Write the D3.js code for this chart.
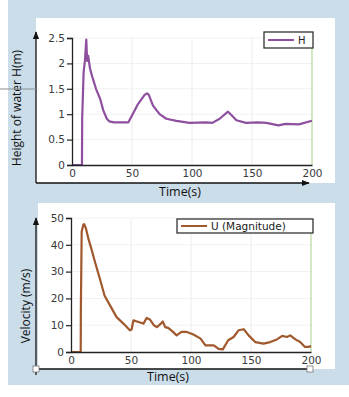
<!DOCTYPE html>
<html>
<head>
<meta charset="utf-8">
<script src="https://cdn.jsdelivr.net/npm/d3@7"></script>
<style>
  html, body { margin: 0; padding: 0; background: #ffffff; }
  svg { display: block; }
</style>
</head>
<body>
<svg id="chart" width="349" height="397"></svg>
<script>
// Water height at the gauge (m) over time (s)
const hTime  = [0, 8.3, 8.5, 9.7, 10.8, 11.9, 12.6, 13.5, 15, 17, 20, 23.5, 26, 29, 31, 35, 40, 47, 51, 55, 60.5, 62.5, 64, 67.5, 73, 78.6, 87, 98, 112, 117, 123, 130, 133, 137, 145, 155, 162, 170, 172, 178, 189, 200];
const hValue = [0, 0, 0.94, 1.83, 2.06, 2.47, 2.05, 2.15, 1.9, 1.73, 1.5, 1.3, 1.08, 0.91, 0.86, 0.84, 0.84, 0.84, 1.02, 1.2, 1.38, 1.41, 1.38, 1.17, 1.0, 0.91, 0.87, 0.83, 0.84, 0.83, 0.91, 1.05, 0.98, 0.88, 0.83, 0.84, 0.83, 0.79, 0.78, 0.81, 0.8, 0.87];

// Flow velocity magnitude (m/s) over time (s)
const uTime  = [0, 8.1, 8.2, 8.9, 10.3, 11, 12.5, 14.5, 17, 20, 24, 28, 32.5, 38, 43.7, 49, 50.5, 52, 55, 59, 60.4, 63, 66, 69, 71.5, 74, 76.5, 78.5, 81, 85, 88, 92, 96.5, 102, 108, 112, 119, 123, 126.5, 131, 135.5, 139.6, 144, 148, 153.5, 160.5, 166, 171.6, 176, 180, 182.7, 187, 191, 195, 198, 200];
const uValue = [0, 0, 14.9, 45, 47.5, 47.7, 46, 42.3, 38.5, 33.6, 27.4, 21, 17.4, 13, 10.6, 8.1, 8.4, 11.8, 11.4, 10.8, 10.6, 12.7, 12, 10, 9.3, 10.2, 11.4, 9.3, 9, 7.5, 6.2, 7.5, 7.5, 6.5, 5, 2.5, 2.5, 1.2, 1, 4.4, 5.6, 8.1, 8.5, 6.2, 3.7, 3.1, 3.7, 4.7, 6, 5.6, 6.2, 4.7, 3.7, 1.9, 1.9, 2.2];

const xTicks = [0, 50, 100, 150, 200];
const hTicks = [0, 0.5, 1, 1.5, 2, 2.5];
const uTicks = [0, 10, 20, 30, 40, 50];
const hTickLabels = ["0", "0.5", "1", "1.5", "2", "2.5"];
const uTickLabels = ["0", "10", "20", "30", "40", "50"];

const svg = d3.select("#chart");
const tickFont = "DejaVu Sans, sans-serif";
const titleFont = "'Open Sans', sans-serif";

// page backdrop
svg.append("rect").attr("x", 8).attr("y", 0).attr("width", 341).attr("height", 385).attr("fill", "#cbdde9");

const defs = svg.append("defs");
defs.append("marker").attr("id", "arrow").attr("viewBox", "0 0 10 10")
  .attr("refX", 9).attr("refY", 5).attr("markerWidth", 6).attr("markerHeight", 6)
  .attr("orient", "auto-start-reverse")
  .append("path").attr("d", "M0,1 L10,5 L0,9 Z").attr("fill", "#111");

function panel(cfg) {
  const g = svg.append("g");
  // white plotting card
  g.append("rect").attr("x", cfg.card[0]).attr("y", cfg.card[1])
    .attr("width", cfg.card[2] - cfg.card[0]).attr("height", cfg.card[3] - cfg.card[1])
    .attr("fill", "#ffffff");

  const x = d3.scaleLinear().domain([0, 200]).range([cfg.plot.left, cfg.plot.right]);
  const y = d3.scaleLinear().domain(cfg.yDomain).range([cfg.plot.bottom, cfg.plot.top]);

  // light grid
  g.append("g").selectAll("line").data(xTicks.slice(1, -1)).join("line")
    .attr("x1", d => x(d)).attr("x2", d => x(d))
    .attr("y1", y.range()[1]).attr("y2", y.range()[0])
    .attr("stroke", "#ececec").attr("stroke-width", 1);
  g.append("g").selectAll("line").data(cfg.yTicks.slice(1)).join("line")
    .attr("x1", x.range()[0]).attr("x2", x.range()[1])
    .attr("y1", d => y(d)).attr("y2", d => y(d))
    .attr("stroke", "#f1f1f1").attr("stroke-width", 1);

  // end-of-record marker
  g.append("line").attr("x1", x(200)).attr("x2", x(200))
    .attr("y1", y.range()[1]).attr("y2", y.range()[0])
    .attr("stroke", "#a9cf8a").attr("stroke-width", 1);

  // series
  const line = d3.line().x(d => x(d[0])).y(d => y(d[1]));
  g.append("path").datum(cfg.t.map((t, i) => [t, cfg.v[i]]))
    .attr("d", line).attr("fill", "none")
    .attr("stroke", cfg.color).attr("stroke-width", 2.2).attr("stroke-linejoin", "round");

  // axes
  const yAxis = d3.axisLeft(y).tickValues(cfg.yTicks).tickFormat((d, i) => cfg.yLabels[i]).tickSize(5).tickPadding(2);
  const ya = g.append("g").attr("transform", `translate(${x.range()[0]},0)`).call(yAxis);
  const xAxis = d3.axisBottom(x).tickValues(xTicks).tickSize(0).tickPadding(5);
  const xa = g.append("g").attr("transform", `translate(0,${y.range()[0]})`).call(xAxis);
  [ya, xa].forEach(a => {
    a.select(".domain").attr("stroke", "#222").attr("stroke-width", 1.3);
    a.selectAll(".tick line").attr("stroke", "#222").attr("stroke-width", 1.2);
    a.selectAll("text").attr("font-family", tickFont).attr("font-size", 10.5).attr("fill", "#3a3a3a");
  });

  // outer arrowed axes of the card
  const o = cfg.outer;
  g.append("line").attr("x1", o.x).attr("y1", o.yBottom).attr("x2", o.x).attr("y2", o.yTop)
    .attr("stroke", "#111").attr("stroke-width", 1.3).attr("marker-end", "url(#arrow)");
  g.append("line").attr("x1", o.x).attr("y1", o.y).attr("x2", o.xRight).attr("y2", o.y)
    .attr("stroke", "#111").attr("stroke-width", 1.3).attr("marker-end", cfg.handles ? null : "url(#arrow)");
  if (cfg.handles) {
    [[o.x, o.y], [o.xRight, o.y]].forEach(p => {
      g.append("rect").attr("x", p[0] - 3).attr("y", p[1] - 3).attr("width", 6).attr("height", 6)
        .attr("fill", "#fff").attr("stroke", "#777").attr("stroke-width", 0.8);
    });
  }

  // legend
  const L = cfg.legend;
  g.append("rect").attr("x", L.x).attr("y", L.y).attr("width", L.w).attr("height", L.h)
    .attr("fill", "#fff").attr("stroke", "#333").attr("stroke-width", 1.3);
  g.append("line").attr("x1", L.x + 4).attr("x2", L.x + L.lineW).attr("y1", L.y + L.h / 2).attr("y2", L.y + L.h / 2)
    .attr("stroke", cfg.color).attr("stroke-width", 2);
  g.append("text").attr("x", L.x + L.lineW + 4).attr("y", L.y + L.h / 2 + 3.5)
    .attr("font-family", tickFont).attr("font-size", L.fs).attr("fill", "#222").text(cfg.name);

  // titles
  g.append("text").attr("x", cfg.xTitle[0]).attr("y", cfg.xTitle[1]).attr("text-anchor", "middle")
    .attr("font-family", titleFont).attr("font-size", 12.5).attr("fill", "#111").text("Time(s)");
  g.append("text").attr("transform", `translate(${cfg.yTitle[0]},${cfg.yTitle[1]}) rotate(-90)`)
    .attr("text-anchor", "middle").attr("font-family", titleFont).attr("font-size", 12).attr("fill", "#111")
    .text(cfg.yName);
}

// Height chart
panel({
  card: [36, 18, 335, 183],
  plot: { left: 72, right: 312, top: 38, bottom: 165 },
  yDomain: [0, 2.5], yTicks: hTicks, yLabels: hTickLabels,
  t: hTime, v: hValue, color: "#8e4f9e", name: "H",
  outer: { x: 36, yBottom: 183, yTop: 32, y: 183, xRight: 309 },
  legend: { x: 264, y: 32, w: 49, h: 16, lineW: 30, fs: 10 },
  xTitle: [180, 196], yTitle: [21, 108], yName: "Height of water H(m)"
});
// stray guide to the side of the height chart
svg.append("line").attr("x1", 0).attr("x2", 36).attr("y1", 89).attr("y2", 89)
  .attr("stroke", "#8a8f94").attr("stroke-width", 1);

// Velocity chart
panel({
  card: [38, 203, 335, 369],
  plot: { left: 71, right: 311, top: 218, bottom: 352 },
  yDomain: [0, 50], yTicks: uTicks, yLabels: uTickLabels,
  t: uTime, v: uValue, color: "#a0582c", name: "U (Magnitude)",
  outer: { x: 36, yBottom: 375, yTop: 218, y: 369, xRight: 310 },
  handles: true,
  legend: { x: 177, y: 219, w: 136, h: 14, lineW: 30, fs: 10.5 },
  xTitle: [168, 381], yTitle: [30, 306], yName: "Velocity (m/s)"
});
</script>
</body>
</html>
